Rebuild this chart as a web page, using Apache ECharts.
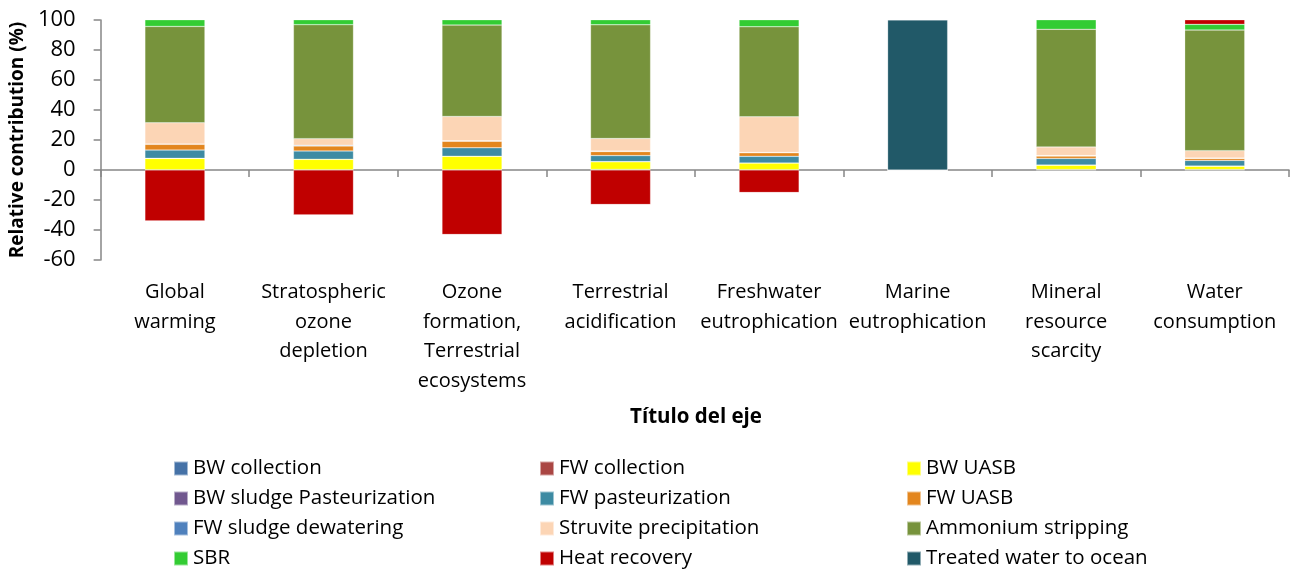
<!DOCTYPE html>
<html><head><meta charset="utf-8">
<script src="https://cdn.jsdelivr.net/npm/echarts@6/dist/echarts.min.js"></script>
<style>html,body{margin:0;padding:0;background:#fff}#c{width:1295px;height:572px}</style>
</head><body><div id="c"></div>
<script>
const categories = ["Global\nwarming","Stratospheric\nozone\ndepletion","Ozone\nformation,\nTerrestrial\necosystems","Terrestrial\nacidification","Freshwater\neutrophication","Marine\neutrophication","Mineral\nresource\nscarcity","Water\nconsumption"];
const yTicks = {min:-60, max:100, interval:20};
const seriesNames = ["BW collection","FW collection","BW UASB","BW sludge Pasteurization","FW pasteurization","FW UASB","FW sludge dewatering","Struvite precipitation","Ammonium stripping","SBR","Heat recovery","Treated water to ocean"];
const bwCollection   = [0.1, 0.1, 0.1, 0.1, 0.1, 0, 0.1, 0.1];
const fwCollection   = [0.1, 0.1, 0.1, 0.3, 0.1, 0, 0.2, 0.2];
const bwUASB         = [7.5, 6.9, 8.9, 5.1, 4.4, 0, 2.9, 2.2];
const bwSludgePast   = [0.1, 0.1, 0.1, 0.1, 0.1, 0, 0.1, 0.1];
const fwPasteur      = [5.5, 5.5, 5.6, 4.0, 4.4, 0, 4.4, 3.8];
const fwUASB         = [3.8, 3.3, 4.4, 2.7, 2.4, 0, 1.6, 1.3];
const fwSludgeDew    = [0.2, 0.5, 0.3, 0.3, 0.2, 0, 0.3, 0.3];
const struvite       = [14.2, 4.4, 16.2, 8.4, 23.8, 0, 5.8, 4.9];
const ammonium       = [64.2, 76.0, 60.9, 75.8, 60.0, 0, 78.4, 80.4];
const sbr            = [4.9, 3.3, 4.2, 3.8, 5.1, 0, 6.9, 3.8];
const heatRecovery   = [-34, -30, -43, -23, -15, 0, 0, 3.6];
const treatedWater   = [0, 0, 0, 0, 0, 100, 0, 0];
const seriesData = [bwCollection, fwCollection, bwUASB, bwSludgePast, fwPasteur, fwUASB, fwSludgeDew, struvite, ammonium, sbr, heatRecovery, treatedWater];
const colors = ["#4572A7","#AA4643","#FFFF00","#71588F","#3D8BA3","#E3861E","#4F81BD","#FCD5B5","#77933C","#33CC33","#C00000","#215968"];

const FONT = "Open Sans";
const chart = echarts.init(document.getElementById('c'), null, {renderer:'canvas'});
const legendCols = [[0,3,6,9],[1,4,7,10],[2,5,8,11]];
const legendLefts = [173, 539, 906];
chart.setOption({
  animation:false,
  color: colors,
  grid:{left:100, right:6, top:20, bottom:312, containLabel:false},
  xAxis:{
    type:'category', data:categories,
    axisLine:{show:true, onZero:true, lineStyle:{color:'#868686', width:1.5}},
    axisTick:{show:true, alignWithLabel:false, length:7, lineStyle:{color:'#868686', width:1.5}},
    axisLabel:{margin:18, fontFamily:FONT, fontSize:20, color:'#000', lineHeight:29.5, interval:0}
  },
  yAxis:{
    type:'value', min:yTicks.min, max:yTicks.max, interval:yTicks.interval,
    name:'Relative contribution (%)', nameLocation:'middle', nameGap:70, nameRotate:90,
    nameTextStyle:{fontFamily:FONT, fontSize:19, fontWeight:'bold', color:'#000'},
    splitLine:{show:false},
    axisLine:{show:true, lineStyle:{color:'#868686', width:1.5}},
    axisTick:{show:true, length:7, lineStyle:{color:'#868686', width:1.5}},
    axisLabel:{fontFamily:FONT, fontSize:22, color:'#000', margin:25}
  },
  legend: legendCols.map((col,i)=>({
    orient:'vertical', left:legendLefts[i], top:458, padding:0, height:125,
    data: col.map(k=>seriesNames[k]),
    itemWidth:14, itemHeight:14, itemGap:9, icon:'rect',
    textStyle:{fontFamily:FONT, fontSize:20.5, lineHeight:20, color:'#000'}
  })),
  graphic:[{type:'text', x:696, y:407, style:{text:'Título del eje', font:'bold 20.5px "'+FONT+'"', fill:'#000', textAlign:'center'}}],
  series: seriesNames.map((n,i)=>({
    name:n, type:'bar', stack:'total', barWidth:60,
    data: seriesData[i],
    itemStyle:{color:colors[i], borderColor:'rgba(255,255,255,0.5)', borderWidth:0.5}
  }))
});
</script></body></html>
